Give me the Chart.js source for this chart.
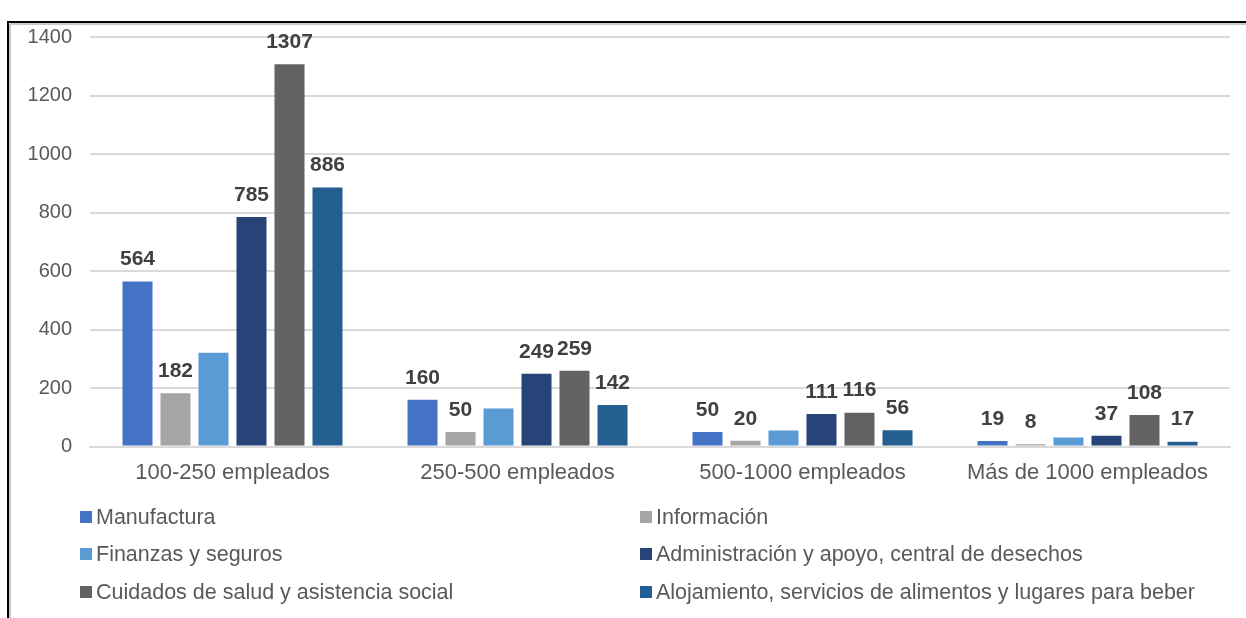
<!DOCTYPE html>
<html>
<head>
<meta charset="utf-8">
<script src="https://cdn.jsdelivr.net/npm/chart.js@4.4.1/dist/chart.umd.min.js"></script>
<style>
  html, body { margin: 0; padding: 0; background: #ffffff; }
  #wrap { position: relative; width: 1246px; height: 618px; }
  canvas { display: block; }
</style>
</head>
<body>
<div id="wrap"><canvas id="chart" width="1246" height="618"></canvas></div>
<script>
// Company size groups along the x axis
const categories = ['100-250 empleados', '250-500 empleados', '500-1000 empleados', 'Más de 1000 empleados'];

// Number of companies per industry, one value per size group
const manufactura    = [564, 160, 50, 19];
const informacion    = [182, 50, 20, 8];
const finanzas       = [321, 130, 55, 31];
const administracion = [785, 249, 111, 37];
const cuidados       = [1307, 259, 116, 108];
const alojamiento    = [886, 142, 56, 17];

const seriesNames = [
  'Manufactura',
  'Información',
  'Finanzas y seguros',
  'Administración y apoyo, central de desechos',
  'Cuidados de salud y asistencia social',
  'Alojamiento, servicios de alimentos y lugares para beber'
];
const seriesValues = [manufactura, informacion, finanzas, administracion, cuidados, alojamiento];
const seriesColors = ['#4472C4', '#A5A5A5', '#5B9BD5', '#264478', '#636363', '#255E91'];
// Finanzas y seguros carries no value labels
const seriesLabelled = [true, true, false, true, true, true];

// Y axis range and step
const yMax = 1400;
const yStep = 200;

const FONT = '"Liberation Sans", Arial, sans-serif';

const datasets = seriesNames.map((name, i) => ({
  label: name,
  data: seriesValues[i],
  backgroundColor: seriesColors[i],
  borderWidth: 0,
  categoryPercentage: 0.8,
  barPercentage: 0.79,
  showValues: seriesLabelled[i]
}));

// Frame around the figure (top and left edges)
const framePlugin = {
  id: 'frame',
  afterDraw(chart) {
    const ctx = chart.ctx;
    ctx.save();
    ctx.strokeStyle = '#c8c8c8';
    ctx.lineWidth = 2;
    ctx.beginPath();
    ctx.moveTo(10, 24); ctx.lineTo(1246, 24);
    ctx.moveTo(10, 24); ctx.lineTo(10, 618);
    ctx.stroke();
    ctx.strokeStyle = '#000000';
    ctx.lineWidth = 2;
    ctx.beginPath();
    ctx.moveTo(7, 22); ctx.lineTo(1246, 22);
    ctx.moveTo(8, 21); ctx.lineTo(8, 618);
    ctx.stroke();
    ctx.restore();
  }
};

// Bold value labels above the bars
const valueLabels = {
  id: 'valueLabels',
  afterDatasetsDraw(chart) {
    const ctx = chart.ctx;
    ctx.save();
    ctx.font = 'bold 21px ' + FONT;
    ctx.fillStyle = '#404040';
    ctx.textAlign = 'center';
    ctx.textBaseline = 'middle';
    chart.data.datasets.forEach((ds, i) => {
      if (!ds.showValues) return;
      const meta = chart.getDatasetMeta(i);
      meta.data.forEach((bar, j) => {
        ctx.fillText(String(ds.data[j]), bar.x, bar.y - 22);
      });
    });
    ctx.restore();
  }
};

// Two-column legend below the axis
const gridLegend = {
  id: 'gridLegend',
  afterDraw(chart) {
    const ctx = chart.ctx;
    const colX = [80, 640];
    const rowY = [517, 554, 592];
    ctx.save();
    ctx.font = '21.5px ' + FONT;
    ctx.textBaseline = 'middle';
    ctx.textAlign = 'left';
    chart.data.datasets.forEach((ds, i) => {
      const x = colX[i % 2];
      const y = rowY[Math.floor(i / 2)];
      ctx.fillStyle = ds.backgroundColor;
      ctx.fillRect(x, y - 6, 12, 12);
      ctx.fillStyle = '#595959';
      ctx.fillText(ds.label, x + 16, y + 1);
    });
    ctx.restore();
  }
};

new Chart(document.getElementById('chart'), {
  type: 'bar',
  data: { labels: categories, datasets: datasets },
  options: {
    responsive: false,
    animation: false,
    layout: { padding: { top: 37, right: 16, bottom: 119, left: 0 } },
    plugins: {
      legend: { display: false },
      tooltip: { enabled: false },
      title: { display: false }
    },
    scales: {
      x: {
        grid: { display: false, drawTicks: false },
        border: { display: true, color: '#d9d9d9', width: 2 },
        ticks: { color: '#595959', font: { family: FONT, size: 22 }, padding: 13 }
      },
      y: {
        min: 0,
        max: yMax,
        afterFit(scale) { scale.width = 90; },
        grid: { color: '#d9d9d9', lineWidth: 2, drawTicks: false },
        border: { display: false },
        ticks: {
          stepSize: yStep,
          color: '#595959',
          font: { family: FONT, size: 20 },
          padding: 18,
          callback: (v) => String(v)
        }
      }
    }
  },
  plugins: [framePlugin, valueLabels, gridLegend]
});
</script>
</body>
</html>
